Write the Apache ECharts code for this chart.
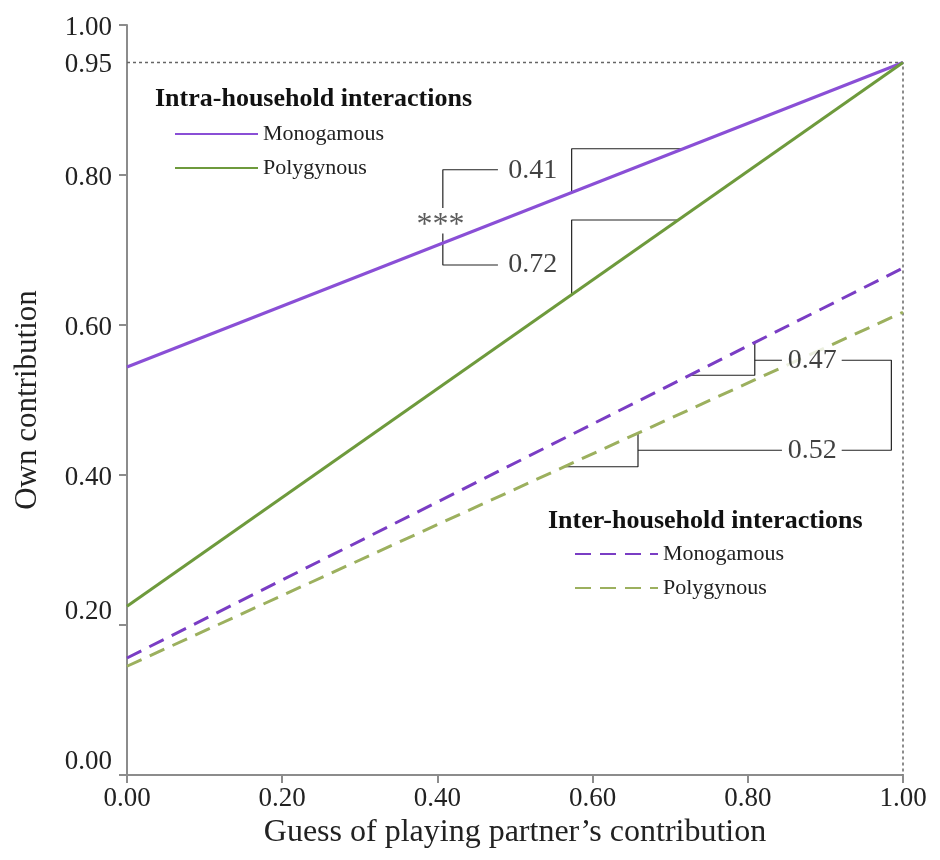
<!DOCTYPE html>
<html>
<head>
<meta charset="utf-8">
<script src="https://cdn.jsdelivr.net/npm/echarts@6/dist/echarts.min.js"></script>
<style>html,body{margin:0;padding:0;background:#fff;}#c{width:940px;height:860px;}</style>
</head>
<body>
<div id="c"></div>
<script>
// ---- data ----
const xEnds = [0, 1];
const intraMono = [0.544, 0.95];
const intraPoly = [0.225, 0.95];
const interMono = [0.156, 0.676];
const interPoly = [0.145, 0.617];
const refLevel = 0.95;
const yLabelValues = [0, 0.2, 0.4, 0.6, 0.8, 0.95, 1.0];
const yTickValues = [0, 0.2, 0.4, 0.6, 0.8, 1.0];
const xTickValues = [0, 0.2, 0.4, 0.6, 0.8, 1.0];
// annotation brackets (data coordinates)
const bracketIntraMono = [[0.573, 0.777], [0.573, 0.835], [0.717, 0.835]];
const bracketIntraPoly = [[0.573, 0.641], [0.573, 0.740], [0.710, 0.740]];
const bracketStarTop = [[0.478, 0.807], [0.407, 0.807], [0.407, 0.756]];
const bracketStarBottom = [[0.407, 0.722], [0.407, 0.680], [0.478, 0.680]];
const bracketInterMono = [[0.7255, 0.533], [0.809, 0.533], [0.809, 0.577]];
const connInterMono = [[0.809, 0.553], [0.844, 0.553]];
const bracketInterPoly = [[0.5636, 0.411], [0.6585, 0.411], [0.6585, 0.456]];
const connInterPoly = [[0.6585, 0.433], [0.844, 0.433]];
const bracketRight = [[0.921, 0.553], [0.985, 0.553], [0.985, 0.433], [0.921, 0.433]];
const annotationTexts = [
  {name: '0.41', value: [0.523, 0.806]},
  {name: '0.72', value: [0.523, 0.680]},
  {name: '0.47', value: [0.883, 0.553]},
  {name: '0.52', value: [0.883, 0.433]}
];
const starText = {name: '***', value: [0.404, 0.733]};

const FONT = "'Liberation Serif','Times New Roman',serif";
const purple = '#8a4fd6';
const green = '#6e9a3c';
const purpleD = '#7a3dc4';
const greenD = '#9cb05e';

function mainLine(name, vals, color, dashed) {
  return {
    name: name, type: 'line', symbol: 'none', z: 5,
    data: xEnds.map((x, i) => [x, vals[i]]),
    lineStyle: {color: color, width: 3, type: dashed ? [16, 9] : 'solid'},
    itemStyle: {color: color},
    emphasis: {disabled: true}
  };
}
function annot(pts) {
  return {
    type: 'line', symbol: 'none', z: 4, silent: true,
    data: pts,
    lineStyle: {color: '#222', width: 1.2},
    emphasis: {disabled: true}
  };
}

const chart = echarts.init(document.getElementById('c'));
chart.setOption({
  animation: false,
  backgroundColor: '#fff',
  grid: {left: 127, right: 37, top: 25, bottom: 85, containLabel: false},
  xAxis: {
    type: 'value', min: 0, max: 1, interval: 0.2,
    name: 'Guess of playing partner\u2019s contribution',
    nameLocation: 'middle', nameGap: 37,
    nameTextStyle: {fontFamily: FONT, fontSize: 32, color: '#222'},
    axisLine: {show: true, lineStyle: {color: '#8c8c8c', width: 2}},
    axisTick: {show: true, length: 8, lineStyle: {color: '#8c8c8c', width: 2}, customValues: xTickValues},
    axisLabel: {fontFamily: FONT, fontSize: 27, color: '#222', margin: 10,
      customValues: xTickValues, formatter: v => v.toFixed(2)},
    splitLine: {show: false}
  },
  yAxis: {
    type: 'value', min: 0, max: 1, interval: 0.2,
    name: 'Own contribution',
    nameLocation: 'middle', nameGap: 84, nameRotate: 90,
    nameTextStyle: {fontFamily: FONT, fontSize: 31, color: '#222'},
    axisLine: {show: true, lineStyle: {color: '#8c8c8c', width: 2}},
    axisTick: {show: true, length: 8, lineStyle: {color: '#8c8c8c', width: 2}, customValues: yTickValues},
    axisLabel: {fontFamily: FONT, fontSize: 27, color: '#222', margin: 15,
      customValues: yLabelValues,
      formatter: v => (v < 0.3 ? '{up|' : '{dn|') + v.toFixed(2) + '}',
      rich: {
        up: {fontFamily: FONT, fontSize: 27, color: '#222', padding: [0, 0, 26, 0]},
        dn: {fontFamily: FONT, fontSize: 27, color: '#222', padding: [5, 0, 0, 0]}
      }},
    splitLine: {show: false}
  },
  legend: [
    {
      data: ['Intra Monogamous', 'Intra Polygynous'],
      orient: 'vertical', left: 169, top: 117, itemWidth: 83, itemHeight: 14, itemGap: 10, itemTextGap: 12,
      formatter: n => n.replace(/^Intra /, ''),
      itemStyle: {opacity: 0},
      textStyle: {fontFamily: FONT, fontSize: 22, color: '#222', lineHeight: 24},
      selectedMode: false
    },
    {
      data: ['Inter Monogamous', 'Inter Polygynous'],
      orient: 'vertical', left: 569, top: 537, itemWidth: 83, itemHeight: 14, itemGap: 10, itemTextGap: 5,
      formatter: n => n.replace(/^Inter /, ''),
      itemStyle: {opacity: 0},
      textStyle: {fontFamily: FONT, fontSize: 22, color: '#222', lineHeight: 24},
      selectedMode: false
    }
  ],
  graphic: [
    {type: 'text', left: 155, top: 86, style: {text: 'Intra-household interactions', font: "bold 26px 'Liberation Serif', serif", fill: '#111'}},
    {type: 'text', left: 548, top: 508, style: {text: 'Inter-household interactions', font: "bold 26px 'Liberation Serif', serif", fill: '#111'}}
  ],
  series: [
    {
      type: 'line', symbol: 'none', z: 2, silent: true,
      data: [[0, refLevel], [1, refLevel], [1, 0]],
      lineStyle: {color: '#666', width: 1.5, type: [3, 3]},
      emphasis: {disabled: true}
    },
    mainLine('Intra Monogamous', intraMono, purple, false),
    mainLine('Intra Polygynous', intraPoly, green, false),
    mainLine('Inter Monogamous', interMono, purpleD, true),
    mainLine('Inter Polygynous', interPoly, greenD, true),
    annot(bracketIntraMono), annot(bracketIntraPoly), annot(bracketStarTop), annot(bracketStarBottom),
    annot(bracketInterMono), annot(connInterMono), annot(bracketInterPoly), annot(connInterPoly), annot(bracketRight),
    {
      type: 'scatter', symbolSize: 0, z: 6, silent: true,
      data: annotationTexts,
      label: {show: true, position: 'inside', formatter: p => p.name,
        fontFamily: FONT, fontSize: 28, color: '#111', backgroundColor: '#fff', padding: [0, 3]}
    },
    {
      type: 'scatter', symbolSize: 0, z: 6, silent: true,
      data: [starText],
      label: {show: true, position: 'inside', formatter: p => p.name,
        fontFamily: FONT, fontSize: 32, color: '#333'}
    }
  ]
});
</script>
</body>
</html>
